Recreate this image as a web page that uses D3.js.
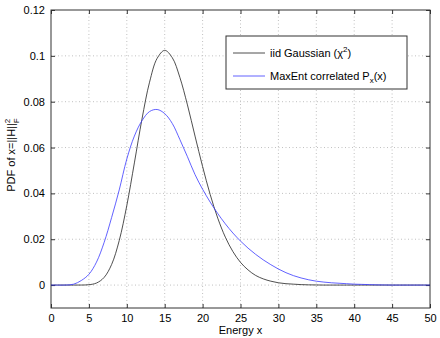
<!DOCTYPE html>
<html>
<head>
<meta charset="utf-8">
<script src="https://cdn.jsdelivr.net/npm/d3@7"></script>
<style>
    body { margin: 0; background: #fff; }
    text { font-family: "Liberation Sans", Arial, sans-serif; font-size: 11px; fill: #000; }
</style>
</head>
<body>
<div id="chart"></div>
<script>
// energy values (x axis samples)
var energy = [0, 1, 2, 3, 4, 5, 6, 7, 8, 9, 10, 11, 12, 13, 14, 15, 16, 17, 18, 19, 20,
    21, 22, 23, 24, 25, 26, 27, 28, 29, 30, 31, 32, 33, 34, 35, 36, 37, 38, 39, 40,
    41, 42, 43, 44, 45, 46, 47, 48, 49, 50];

// iid Gaussian (chi^2)
var iidGaussian = [0, 0, 0, 0.0000005, 0.000015, 0.00016, 0.00089, 0.0033, 0.0090, 0.0194, 0.0347,
    0.0533, 0.0724, 0.0885, 0.0989, 0.1024, 0.0992, 0.0906, 0.0786, 0.0650, 0.0517,
    0.0395, 0.0292, 0.0209, 0.0146, 0.0099, 0.0066, 0.0042, 0.0027, 0.0017, 0.0010,
    0.0006, 0.0004, 0.0002, 0.0001, 0.00005, 0, 0, 0, 0, 0,
    0, 0, 0, 0, 0, 0, 0, 0, 0, 0];

// MaxEnt correlated
var maxEnt = [0, 0, 0.00002, 0.0004, 0.0020, 0.0047, 0.0100, 0.0185, 0.0295, 0.0415, 0.0550,
    0.0650, 0.0717, 0.0757, 0.0766, 0.0748, 0.0705, 0.0635, 0.0560, 0.0482, 0.0418,
    0.0362, 0.0312, 0.0267, 0.0227, 0.0192, 0.0161, 0.0134, 0.0110, 0.0089, 0.0070,
    0.0054, 0.0041, 0.0031, 0.0023, 0.0017, 0.0013, 0.0010, 0.0008, 0.0006, 0.0004,
    0.0003, 0.0002, 0.0001, 0.00005, 0, 0, 0, 0, 0, 0];

var xTicks = [0, 5, 10, 15, 20, 25, 30, 35, 40, 45, 50];
var yTicks = [0, 0.02, 0.04, 0.06, 0.08, 0.1, 0.12];

(function () {
    let width = 440, height = 338,
        margins = { 'left': 51, 'right': 10, 'top': 10, 'bottom': 30 };

    var svg = d3.select('#chart').append('svg')
        .attr('width', width).attr('height', height);

    var x = d3.scaleLinear().domain([0, 50]).range([margins.left, width - margins.right]);
    var y = d3.scaleLinear().domain([-0.01, 0.12]).range([height - margins.bottom, margins.top]);

    // dotted grid
    var grid = svg.append('g').attr('stroke', '#c0c0c0').attr('stroke-dasharray', '1,2.5');
    grid.selectAll('.vg').data(xTicks.slice(1, -1)).enter().append('line')
        .attr('x1', d => x(d)).attr('x2', d => x(d))
        .attr('y1', y.range()[0]).attr('y2', y.range()[1]);
    grid.selectAll('.hg').data(yTicks.slice(0, -1)).enter().append('line')
        .attr('x1', x.range()[0]).attr('x2', x.range()[1])
        .attr('y1', d => y(d)).attr('y2', d => y(d));

    // axes, ticks inward on all four sides
    function styleAxis(g) {
        g.select('.domain').remove();
        g.selectAll('.tick line').attr('stroke', '#333');
        g.selectAll('.tick text').attr('fill', '#000').style('font-size', '11px');
    }
    svg.append('g').attr('transform', 'translate(0,' + y.range()[0] + ')')
        .call(d3.axisBottom(x).tickValues(xTicks).tickSize(-4).tickPadding(6).tickFormat(d => d))
        .call(styleAxis);
    svg.append('g').attr('transform', 'translate(0,' + y.range()[1] + ')')
        .call(d3.axisTop(x).tickValues(xTicks).tickSize(-4).tickFormat(''))
        .call(styleAxis);
    svg.append('g').attr('transform', 'translate(' + x.range()[0] + ',0)')
        .call(d3.axisLeft(y).tickValues(yTicks).tickSize(-4).tickPadding(6).tickFormat(d => d))
        .call(styleAxis);
    svg.append('g').attr('transform', 'translate(' + x.range()[1] + ',0)')
        .call(d3.axisRight(y).tickValues(yTicks).tickSize(-4).tickFormat(''))
        .call(styleAxis);

    svg.append('rect')
        .attr('x', x.range()[0]).attr('y', y.range()[1])
        .attr('width', x.range()[1] - x.range()[0]).attr('height', y.range()[0] - y.range()[1])
        .attr('fill', 'none').attr('stroke', '#333').attr('stroke-width', 1);

    // curves
    var line = d3.line().curve(d3.curveCatmullRom)
        .x((d, i) => x(energy[i])).y(d => y(d));

    svg.append('path').datum(iidGaussian)
        .attr('d', line).attr('fill', 'none').attr('stroke', '#222').attr('stroke-width', 0.8);
    svg.append('path').datum(maxEnt)
        .attr('d', line).attr('fill', 'none').attr('stroke', '#3a3aff').attr('stroke-width', 0.8);

    // legend
    var lg = svg.append('g');
    lg.append('rect').attr('x', 226).attr('y', 36).attr('width', 181).attr('height', 53)
        .attr('fill', '#fff').attr('stroke', '#333');
    lg.append('line').attr('x1', 233).attr('x2', 265).attr('y1', 53).attr('y2', 53)
        .attr('stroke', '#222').attr('stroke-width', 0.8);
    lg.append('line').attr('x1', 233).attr('x2', 265).attr('y1', 76).attr('y2', 76)
        .attr('stroke', '#3a3aff').attr('stroke-width', 0.8);

    var t1 = lg.append('text').attr('x', 270).attr('y', 57);
    t1.append('tspan').text('iid Gaussian (\u03C7');
    t1.append('tspan').attr('dy', -5).style('font-size', '8px').text('2');
    t1.append('tspan').attr('dy', 5).text(')');

    var t2 = lg.append('text').attr('x', 270).attr('y', 80);
    t2.append('tspan').text('MaxEnt correlated P');
    t2.append('tspan').attr('dy', 3).style('font-size', '8px').text('x');
    t2.append('tspan').attr('dy', -3).text('(x)');

    // axis labels
    svg.append('text').attr('x', (x.range()[0] + x.range()[1]) / 2).attr('y', 334)
        .attr('text-anchor', 'middle').text('Energy x');

    var yl = svg.append('text').attr('text-anchor', 'middle')
        .attr('transform', 'translate(15,155) rotate(-90)');
    yl.append('tspan').text('PDF of x=||H||');
    yl.append('tspan').attr('dy', -5).style('font-size', '8px').text('2');
    yl.append('tspan').attr('dx', -4.5).attr('dy', 9).style('font-size', '8px').text('F');
})();
</script>
</body>
</html>
